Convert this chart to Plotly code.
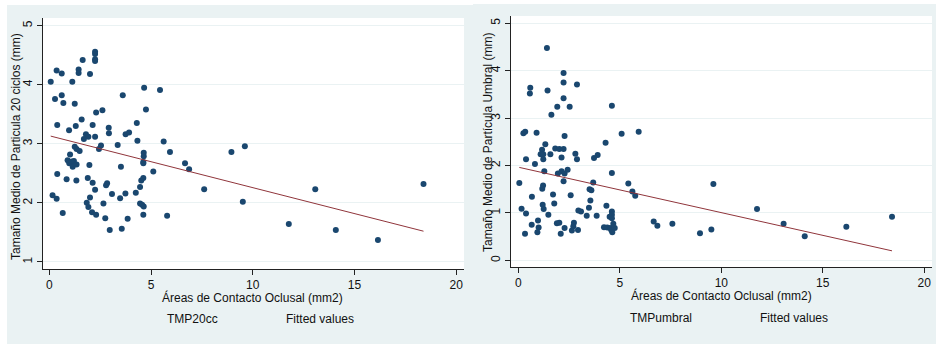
import plotly.graph_objects as go

# Occlusal contact area (mm2) vs. median particle size, left panel: TMP20cc
left_x = [0.07, 0.28, 0.36, 0.61, 0.61, 0.69, 0.39, 0.39, 0.16, 0.36, 0.66,
          1.13, 1.25, 0.97, 1.30, 1.44, 1.44, 1.64, 1.59, 1.02, 1.25, 1.34,
          1.49, 0.90, 0.98, 1.11, 1.15, 1.21, 1.34, 0.85, 1.33, 2.00, 2.25,
          2.25, 2.25, 2.25, 2.30, 2.61, 2.13, 1.80, 1.70, 1.92, 2.25, 1.97,
          2.44, 2.54, 1.89, 2.13, 2.25, 2.00, 1.84, 1.92, 2.10, 2.30, 2.66,
          2.75, 2.79, 2.84, 2.97, 2.92, 2.93, 3.08, 3.36, 3.52, 3.48, 3.56,
          3.61, 3.75, 3.92, 3.74, 3.85, 4.30, 4.33, 4.25, 4.46, 4.52, 4.62,
          4.66, 4.75, 4.64, 4.64, 4.62, 4.62, 4.46, 4.56, 4.64, 4.62, 5.11,
          5.44, 5.62, 5.79, 5.93, 6.67, 6.87, 7.61, 8.95, 9.61, 9.51, 11.77,
          13.07, 14.08, 16.15, 18.39]
left_y = [4.05, 3.76, 4.24, 4.19, 3.82, 3.69, 3.32, 2.49, 2.13, 2.07, 1.83,
          4.05, 3.68, 3.23, 3.30, 4.26, 4.20, 4.42, 3.41, 2.82, 2.95, 2.91,
          2.88, 2.72, 2.67, 2.70, 2.61, 2.71, 2.65, 2.40, 2.38, 4.18, 4.56,
          4.52, 4.43, 4.40, 3.53, 3.57, 3.32, 3.16, 3.08, 3.12, 3.12, 2.64,
          2.91, 2.97, 2.42, 2.34, 2.22, 2.09, 2.00, 1.93, 1.84, 1.80, 1.99,
          1.74, 2.30, 2.33, 1.54, 3.27, 3.18, 2.15, 2.98, 2.61, 2.08, 1.56,
          3.82, 3.16, 3.19, 2.16, 1.73, 3.35, 3.05, 2.17, 2.27, 2.38, 2.42,
          3.95, 3.58, 2.85, 2.79, 2.69, 2.67, 1.99, 1.97, 1.94, 1.80, 2.53,
          3.91, 3.04, 1.78, 2.86, 2.67, 2.57, 2.23, 2.86, 2.96, 2.02, 1.64,
          2.23, 1.54, 1.37, 2.32]

# Right panel: TMPumbral
right_x = [1.41, 0.59, 0.57, 1.44, 2.23, 2.23, 2.23, 2.89, 1.92, 2.53, 1.63,
           4.61, 0.25, 0.34, 0.90, 2.28, 5.09, 5.93, 1.33, 1.17, 1.10, 1.23,
           1.58, 1.23, 0.38, 0.82, 1.82, 2.02, 2.23, 2.13, 2.81, 2.89, 3.73,
           3.91, 4.30, 1.28, 1.95, 2.13, 2.28, 2.43, 2.23, 4.61, 0.05, 3.69,
           5.42, 5.62, 5.76, 9.61, 1.22, 1.18, 0.67, 1.71, 2.58, 3.51, 3.60,
           3.55, 1.77, 1.20, 1.25, 0.16, 0.38, 1.48, 2.96, 3.09, 3.48, 3.37,
           3.86, 4.34, 4.61, 4.61, 4.50, 4.61, 0.97, 0.66, 1.00, 0.94, 0.33,
           1.90, 2.02, 2.28, 2.09, 2.74, 2.71, 2.64, 2.94, 4.22, 4.38, 4.52,
           4.58, 4.63, 4.75, 4.68, 6.67, 6.85, 7.59, 8.95, 9.51, 11.76, 13.07,
           14.11, 16.16, 18.41]
right_y = [4.48, 3.64, 3.52, 3.58, 3.95, 3.75, 3.42, 3.71, 3.24, 3.24, 3.07,
           3.26, 2.68, 2.71, 2.69, 2.62, 2.67, 2.71, 2.45, 2.33, 2.24, 2.24,
           2.24, 2.13, 2.13, 2.03, 2.36, 2.35, 2.35, 2.17, 2.25, 2.13, 2.16,
           2.22, 2.48, 1.88, 1.83, 1.88, 1.83, 1.91, 1.67, 1.84, 1.63, 1.64,
           1.62, 1.45, 1.36, 1.61, 1.58, 1.51, 1.34, 1.39, 1.37, 1.50, 1.48,
           1.26, 1.20, 1.17, 1.08, 1.09, 0.99, 0.96, 1.05, 1.03, 1.11, 0.94,
           0.94, 1.15, 1.03, 0.96, 0.92, 0.89, 0.84, 0.75, 0.69, 0.59, 0.56,
           0.78, 0.79, 0.68, 0.56, 0.79, 0.72, 0.63, 0.64, 0.70, 0.69, 0.68,
           0.64, 0.59, 0.68, 0.77, 0.82, 0.73, 0.77, 0.57, 0.65, 1.08, 0.77,
           0.51, 0.71, 0.92]

# Linear fit endpoints (Fitted values)
fit_left_x = [0.07, 18.39]
fit_left_y = [3.13, 1.52]
fit_right_x = [0.05, 18.41]
fit_right_y = [1.96, 0.20]

x_ticks = [0, 5, 10, 15, 20]
left_y_ticks = [1, 2, 3, 4, 5]
right_y_ticks = [0, 1, 2, 3, 4, 5]

x_title = "Áreas de Contacto Oclusal (mm2)"
left_y_title = "Tamaño Medio de Particula 20 ciclos (mm)"
right_y_title = "Tamaño Medio de Partícula Umbral (mm)"
left_legend = ["TMP20cc", "Fitted values"]
right_legend = ["TMPumbral", "Fitted values"]

W, H = 936, 344
NAVY = "#1a476f"
MAROON = "#90353b"
BG = "#eaf2f3"
FONT = "Liberation Sans, Arial, sans-serif"


def fx(px):
    return px / W


def fy(py):
    return 1 - py / H


fig = go.Figure()

fig.add_trace(go.Scatter(x=left_x, y=left_y, mode="markers",
                         marker=dict(color=NAVY, size=6), xaxis="x", yaxis="y"))
fig.add_trace(go.Scatter(x=fit_left_x, y=fit_left_y, mode="lines",
                         line=dict(color=MAROON, width=1), xaxis="x", yaxis="y"))
fig.add_trace(go.Scatter(x=right_x, y=right_y, mode="markers",
                         marker=dict(color=NAVY, size=6), xaxis="x2", yaxis="y2"))
fig.add_trace(go.Scatter(x=fit_right_x, y=fit_right_y, mode="lines",
                         line=dict(color=MAROON, width=1), xaxis="x2", yaxis="y2"))

axis_common = dict(showline=True, linecolor="#222222", linewidth=1,
                   ticks="outside", ticklen=5, tickcolor="#222222",
                   tickfont=dict(family=FONT, size=12, color="#111111"),
                   zeroline=False)

fig.update_layout(
    width=W, height=H,
    margin=dict(l=0, r=0, t=0, b=0),
    paper_bgcolor=BG, plot_bgcolor="white",
    showlegend=False,
    font=dict(family=FONT, size=12, color="#111111"),
    xaxis=dict(domain=[fx(43), fx(464)], range=[-0.31, 20.38],
               tickvals=x_ticks, showgrid=False, anchor="y", **axis_common),
    yaxis=dict(domain=[fy(269), fy(18)], range=[0.88, 5.13],
               tickvals=left_y_ticks, tickangle=-90, showgrid=True,
               gridcolor=BG, gridwidth=1, anchor="x", **axis_common),
    xaxis2=dict(domain=[fx(511), fx(932)], range=[-0.36, 20.38],
                tickvals=x_ticks, showgrid=False, anchor="y2", **axis_common),
    yaxis2=dict(domain=[fy(267), fy(16)], range=[-0.141, 5.154],
                tickvals=right_y_ticks, tickangle=-90, showgrid=True,
                gridcolor=BG, gridwidth=1, anchor="x2", **axis_common),
)

# white page margins around the two panels
fig.add_shape(type="rect", xref="paper", yref="paper", x0=0, x1=fx(473),
              y0=fy(5), y1=1, fillcolor="white", line_width=0, layer="below")
fig.add_shape(type="rect", xref="paper", yref="paper", x0=fx(473), x1=1,
              y0=fy(4), y1=1, fillcolor="white", line_width=0, layer="below")
fig.add_shape(type="rect", xref="paper", yref="paper", x0=0, x1=fx(7),
              y0=0, y1=1, fillcolor="white", line_width=0, layer="below")


def label(text, px, py, angle=0, xanchor="center"):
    fig.add_annotation(text=text, xref="paper", yref="paper",
                       x=fx(px), y=fy(py), showarrow=False, textangle=angle,
                       xanchor=xanchor, yanchor="middle",
                       font=dict(family=FONT, size=12, color="#111111"))


label(x_title, 253, 297)
label(x_title, 721, 295)
label(left_y_title, 16, 147, angle=-90)
label(right_y_title, 488, 143, angle=-90)
label(left_legend[0], 165, 319, xanchor="left")
label(left_legend[1], 284, 319, xanchor="left")
label(right_legend[0], 628, 318, xanchor="left")
label(right_legend[1], 758, 318, xanchor="left")

fig.write_html("out.html")
